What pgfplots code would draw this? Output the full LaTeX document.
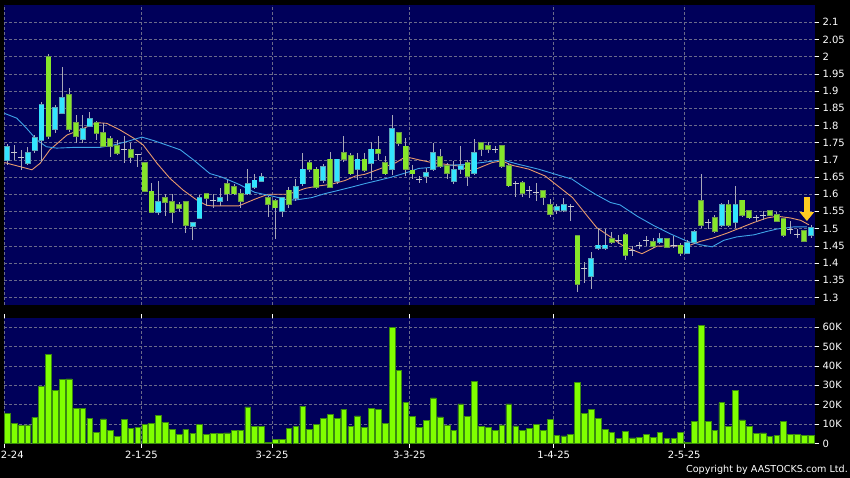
\documentclass[border=0pt]{standalone}
\usepackage{fontspec}
\setmainfont{DejaVu Sans}
\usepackage{pgfplots}
\pgfplotsset{compat=1.18}
\usepackage{pgfplotstable}
\usetikzlibrary{arrows.meta}

\definecolor{navy}{HTML}{00005A}
\definecolor{gridc}{HTML}{6A6A8A}
\definecolor{upfill}{HTML}{33E5FF}
\definecolor{upedge}{HTML}{5AA6B8}
\definecolor{dnfill}{HTML}{86E62A}
\definecolor{dnedge}{HTML}{6E9C48}
\definecolor{wickc}{HTML}{A8A8B8}
\definecolor{dojic}{HTML}{C8C8D0}
\definecolor{maorange}{HTML}{E89A6C}
\definecolor{mablue}{HTML}{3FA4E8}
\definecolor{volfill}{HTML}{80FF00}
\definecolor{voledge}{HTML}{3A8A10}
\definecolor{arrowc}{HTML}{FFCC22}

% candles: i, body low, body high, low, high
\pgfplotstableread{
i bl bh l h
0 1.700 1.738 1.685 1.745
3 1.690 1.719 1.685 1.738
4 1.729 1.763 1.720 1.772
5 1.758 1.859 1.695 1.869
7 1.789 1.850 1.777 1.860
8 1.837 1.879 1.835 1.971
11 1.760 1.789 1.750 1.830
12 1.798 1.818 1.798 1.840
22 1.549 1.578 1.540 1.638
27 1.508 1.517 1.467 1.517
28 1.530 1.588 1.530 1.598
31 1.579 1.590 1.566 1.619
35 1.602 1.631 1.600 1.672
36 1.621 1.640 1.614 1.660
37 1.638 1.650 1.638 1.662
40 1.552 1.590 1.535 1.590
42 1.590 1.621 1.580 1.643
43 1.631 1.672 1.625 1.720
46 1.640 1.679 1.633 1.688
48 1.638 1.701 1.630 1.701
51 1.672 1.701 1.640 1.720
53 1.691 1.730 1.640 1.752
56 1.672 1.790 1.657 1.830
61 1.652 1.661 1.632 1.675
62 1.673 1.721 1.668 1.750
65 1.639 1.671 1.630 1.697
66 1.673 1.681 1.658 1.740
68 1.661 1.721 1.655 1.760
80 1.555 1.562 1.542 1.571
81 1.555 1.568 1.550 1.590
85 1.362 1.411 1.325 1.431
86 1.443 1.451 1.440 1.503
87 1.443 1.451 1.440 1.500
95 1.462 1.469 1.454 1.488
99 1.430 1.459 1.427 1.466
100 1.461 1.490 1.455 1.497
104 1.510 1.569 1.505 1.575
106 1.520 1.569 1.503 1.624
117 1.481 1.501 1.472 1.510
}\up

\pgfplotstableread{
i bl bh l h
6 1.769 1.998 1.760 2.008
9 1.789 1.889 1.780 1.908
10 1.769 1.808 1.750 1.830
13 1.777 1.808 1.758 1.812
14 1.740 1.777 1.738 1.808
15 1.740 1.760 1.709 1.770
16 1.719 1.740 1.715 1.758
18 1.707 1.729 1.690 1.748
20 1.608 1.690 1.608 1.690
21 1.549 1.608 1.545 1.632
23 1.578 1.588 1.537 1.600
24 1.549 1.578 1.517 1.600
25 1.559 1.569 1.549 1.578
26 1.511 1.578 1.488 1.578
29 1.588 1.600 1.565 1.600
32 1.602 1.631 1.581 1.640
33 1.602 1.621 1.600 1.629
34 1.581 1.602 1.561 1.614
38 1.571 1.590 1.533 1.595
39 1.561 1.581 1.470 1.585
41 1.571 1.611 1.561 1.620
44 1.672 1.691 1.665 1.700
45 1.621 1.672 1.615 1.679
47 1.621 1.701 1.619 1.723
49 1.701 1.720 1.695 1.768
50 1.660 1.711 1.655 1.720
52 1.669 1.701 1.665 1.720
54 1.720 1.730 1.700 1.768
55 1.660 1.691 1.655 1.710
57 1.749 1.778 1.740 1.778
58 1.672 1.739 1.652 1.763
59 1.660 1.669 1.644 1.684
63 1.681 1.709 1.675 1.730
64 1.661 1.681 1.644 1.692
67 1.652 1.690 1.625 1.700
69 1.731 1.750 1.710 1.750
70 1.731 1.740 1.721 1.752
72 1.681 1.740 1.678 1.740
73 1.625 1.681 1.620 1.692
75 1.603 1.632 1.591 1.639
78 1.591 1.610 1.568 1.610
79 1.542 1.568 1.533 1.586
83 1.340 1.478 1.316 1.480
88 1.461 1.471 1.454 1.490
90 1.422 1.481 1.410 1.488
94 1.450 1.461 1.444 1.472
96 1.447 1.469 1.444 1.472
98 1.428 1.451 1.420 1.458
101 1.510 1.581 1.503 1.660
103 1.493 1.532 1.488 1.541
105 1.510 1.569 1.505 1.582
107 1.540 1.582 1.535 1.582
108 1.532 1.551 1.528 1.551
111 1.540 1.551 1.537 1.551
112 1.522 1.540 1.520 1.547
113 1.481 1.527 1.478 1.527
116 1.464 1.493 1.462 1.493
}\down

% doji: i, price, low, high
\pgfplotstableread{
i p l h
1 1.720 1.700 1.743
2 1.707 1.670 1.729
17 1.729 1.690 1.770
19 1.717 1.680 1.717
30 1.581 1.561 1.600
60 1.642 1.632 1.653
71 1.729 1.721 1.740
74 1.632 1.591 1.639
76 1.610 1.590 1.625
77 1.605 1.580 1.632
82 1.565 1.523 1.571
84 1.383 1.343 1.402
89 1.466 1.455 1.480
91 1.436 1.420 1.450
92 1.451 1.440 1.460
93 1.466 1.450 1.478
97 1.452 1.445 1.479
102 1.517 1.498 1.527
109 1.532 1.520 1.541
110 1.537 1.525 1.550
114 1.498 1.483 1.522
115 1.483 1.474 1.498
}\doji

% volume in thousands
\pgfplotstableread{
i v
0 15.5
1 10.3
2 9.4
3 9.6
4 13.4
5 29.5
6 45.9
7 27.5
8 33
9 33.3
10 17.9
11 18.2
12 12.9
13 5.7
14 12.7
15 6.7
16 3.8
17 12.4
18 7.9
19 8.2
20 10
21 10.3
22 14.4
23 11
24 7.4
25 4.5
26 7.2
27 5.2
28 9.8
29 4.6
30 5.2
31 5.2
32 5.5
33 6.9
34 6.9
35 18.9
36 8.9
37 8.9
38 0.5
39 1.9
40 1.9
41 7.7
42 8.6
43 19.3
44 7.4
45 10
46 12.9
47 14.9
48 12.9
49 17.5
50 8.6
51 14.2
52 8.2
53 18.2
54 17.7
55 10.3
56 60
57 37.6
58 21.1
59 13.9
60 8.1
61 11.8
62 23.5
63 13.7
64 9.3
65 6.7
66 20.4
67 13.9
68 32.1
69 8.8
70 8.2
71 6.7
72 9.6
73 20.4
74 9.1
75 6.9
76 7.7
77 9.8
78 6.9
79 12.4
80 4.3
81 3.9
82 4.5
83 31.4
84 15.5
85 17.5
86 13
87 7.2
88 5.7
89 2.6
90 6.4
91 2.9
92 3.3
93 4.6
94 3.3
95 5.8
96 2.6
97 2.6
98 5.7
99 0.5
100 11.5
101 60.8
102 11.3
103 6.9
104 21.1
105 8.9
106 27.3
107 12.2
108 8.6
109 5
110 5.5
111 3.8
112 4.1
113 11.5
114 4.5
115 4.8
116 4.3
117 4.1
}\vol

\pgfplotsset{
  panel/.style={
    scale only axis, width=811pt, anchor=south west,
    xmin=-0.466, xmax=117.58,
    axis background/.style={fill=navy},
    axis line style={draw=none},
    xtick={-0.45,19.55,38.55,58.55,79.55,98.55},
    tick align=outside, major tick length=4pt,
    ytick pos=right, yticklabel pos=right,
    xmajorgrids, ymajorgrids,
    grid style={draw=gridc, line width=0.5pt, dash pattern=on 2.5pt off 2.5pt},
    tick style={draw=white, line width=0.5pt},
    every tick label/.append style={text=white, font=\fontsize{10}{12}\selectfont},
  },
  wick/.style={draw=none, mark=none,
    error bars/y dir=both, error bars/y explicit, error bars/error mark=none,
    error bars/error bar style={draw=wickc, line width=0.8pt}},
  body/.style={draw=none, mark=none,
    error bars/y dir=both, error bars/y explicit, error bars/error mark=none,
    error bars/error bar style={draw=#1}},
}

\begin{document}
\begin{tikzpicture}
\useasboundingbox (0,0) rectangle (850pt,478pt);
\fill[black] (0,0) rectangle (850pt,478pt);
\clip (0,0) rectangle (850pt,478pt);

\begin{axis}[panel, at={(4pt,173pt)}, height=300pt,
  ymin=1.278, ymax=2.150,
  xticklabels={}, major x tick style={draw=none},
  ytick={1.3,1.35,1.4,1.45,1.5,1.55,1.6,1.65,1.7,1.75,1.8,1.85,1.9,1.95,2,2.05,2.1},
  yticklabels={1.3,1.35,1.4,1.45,1.5,1.55,1.6,1.65,1.7,1.75,1.8,1.85,1.9,1.95,2,2.05,2.1},
]
% moving averages (behind the candles)
\addplot[maorange, line width=0.9pt] coordinates {
(-0.4,1.692) (1.9,1.680) (3.6,1.671) (4.8,1.69) (6.2,1.729) (8.7,1.772) (10.6,1.787)
(13,1.808) (14.5,1.806) (16.4,1.787) (18.4,1.763) (19.8,1.743) (21.8,1.69) (23.7,1.646)
(25.6,1.612) (27.6,1.583) (29,1.568) (29.8,1.566) (33.7,1.566) (36.1,1.586) (38,1.60)
(40.9,1.60) (42.4,1.61) (43.4,1.617) (45.3,1.624) (47.2,1.629) (49.2,1.64) (50.7,1.653)
(52.1,1.658) (54,1.672) (55.3,1.682) (56.5,1.691) (58,1.709) (59.9,1.70) (61.8,1.692)
(63.8,1.687) (65.7,1.682) (67.6,1.668) (69.1,1.68) (70.6,1.692) (72,1.697) (73.5,1.684)
(75.9,1.673) (78.3,1.653) (80.4,1.62) (82.3,1.59) (84.3,1.54) (85.8,1.503) (87.8,1.476)
(89.7,1.449) (92.4,1.427) (94.6,1.449) (97,1.45) (99,1.449) (100.9,1.463) (102.8,1.473)
(104.8,1.487) (106.7,1.502) (108.7,1.518) (110.6,1.531) (112.1,1.536) (114,1.531)
(115.5,1.524) (116.7,1.511)};
\addplot[mablue, line width=0.9pt] coordinates {
(-0.4,1.835) (1.4,1.821) (2.8,1.792) (4.3,1.758) (5.7,1.738) (7.2,1.734) (9.6,1.736)
(13.5,1.736) (15.5,1.743) (17.4,1.753) (19.6,1.766) (21.3,1.756) (23.2,1.743) (25.2,1.729)
(27.1,1.70) (29.5,1.66) (31.2,1.65) (33.7,1.629) (36.1,1.605) (38.5,1.595) (40.5,1.585)
(41.9,1.583) (44.3,1.59) (46.3,1.602) (48.2,1.611) (50.2,1.621) (52.1,1.631) (54,1.64)
(56,1.65) (58,1.662) (59.9,1.675) (61.8,1.678) (64.3,1.684) (66.7,1.687) (69.1,1.692)
(72,1.70) (74.4,1.687) (77.3,1.673) (79.8,1.658) (82.2,1.644) (83.6,1.625) (85.6,1.60)
(87.8,1.576) (89.2,1.569) (91.7,1.536) (94.1,1.509) (96.5,1.485) (99,1.463) (100.9,1.453)
(102.6,1.447) (104.3,1.466) (106.2,1.476) (108.7,1.482) (110.6,1.492) (112.1,1.499)
(114.5,1.505) (116.4,1.505)};

% wicks: upper and lower parts only, so that none crosses a body
\addplot[wick] table[x=i, y expr=(\thisrow{h}+\thisrow{bh})/2, y error expr=(\thisrow{h}-\thisrow{bh})/2] {\up};
\addplot[wick] table[x=i, y expr=(\thisrow{bl}+\thisrow{l})/2, y error expr=(\thisrow{bl}-\thisrow{l})/2] {\up};
\addplot[wick] table[x=i, y expr=(\thisrow{h}+\thisrow{bh})/2, y error expr=(\thisrow{h}-\thisrow{bh})/2] {\down};
\addplot[wick] table[x=i, y expr=(\thisrow{bl}+\thisrow{l})/2, y error expr=(\thisrow{bl}-\thisrow{l})/2] {\down};
\addplot[wick] table[x=i, y expr=(\thisrow{h}+\thisrow{l})/2, y error expr=(\thisrow{h}-\thisrow{l})/2] {\doji};
% bodies
\addplot[body=upedge, error bars/error bar style={line width=5.8pt}] table[x=i, y expr=(\thisrow{bh}+\thisrow{bl})/2, y error expr=(\thisrow{bh}-\thisrow{bl})/2+0.0025] {\up};
\addplot[body=upfill, error bars/error bar style={line width=4.4pt}] table[x=i, y expr=(\thisrow{bh}+\thisrow{bl})/2, y error expr=(\thisrow{bh}-\thisrow{bl})/2] {\up};
\addplot[body=dnedge, error bars/error bar style={line width=5.8pt}] table[x=i, y expr=(\thisrow{bh}+\thisrow{bl})/2, y error expr=(\thisrow{bh}-\thisrow{bl})/2+0.0025] {\down};
\addplot[body=dnfill, error bars/error bar style={line width=4.4pt}] table[x=i, y expr=(\thisrow{bh}+\thisrow{bl})/2, y error expr=(\thisrow{bh}-\thisrow{bl})/2] {\down};
\addplot[only marks, mark=-, mark size=3pt, mark options={draw=dojic, line width=0.9pt}] table[x=i, y=p] {\doji};

% marker arrow over the last session
\draw[arrowc, line width=5.5pt, -{Triangle[width=14pt,length=9pt]}]
  (axis cs:116.4,1.592) -- (axis cs:116.4,1.522);
\end{axis}

\begin{axis}[panel, at={(4pt,34pt)}, height=126pt,
  ymin=-0.3, ymax=64.7,
  ytick={0,10,20,30,40,50,60},
  yticklabels={0,10K,20K,30K,40K,50K,60K},
  xticklabels={2-12-24,2-1-25,3-2-25,3-3-25,1-4-25,2-5-25},
]
\addplot[ybar, bar width=5.7pt, bar shift=0pt, fill=volfill, draw=voledge, line width=0.5pt]
  table[x=i, y=v] {\vol};
\end{axis}

\node[anchor=east, text=white, inner sep=0pt, font=\fontsize{9.6}{11}\selectfont]
  at (848pt,8pt) {Copyright by AASTOCKS.com Ltd.};
\end{tikzpicture}
\end{document}
